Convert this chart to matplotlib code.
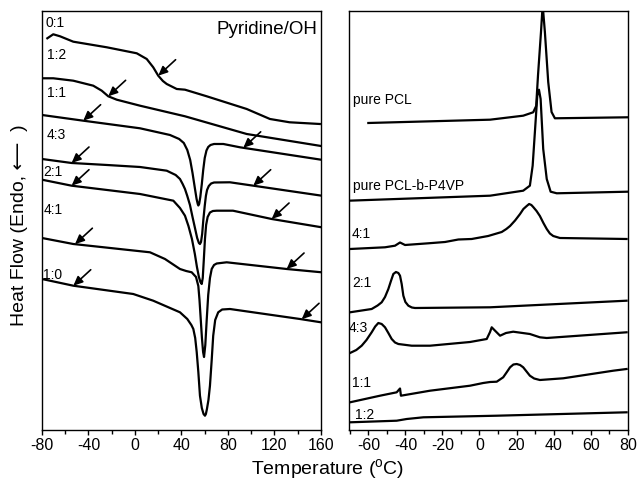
import numpy as np
import matplotlib.pyplot as plt
from matplotlib.ticker import MultipleLocator

plt.rcParams['font.family'] = ['Liberation Sans', 'DejaVu Sans']
plt.rcParams['mathtext.fontset'] = 'custom'
plt.rcParams['mathtext.rm'] = 'Liberation Sans'

# ---- heating scans (left panel), heat flow in a.u., endo down ----
t_01 = [-75.4, -70.3, -64.5, -53.1, -24.3, 1.5, 10.1, 15.7, 20.0, 24.0, 27.3, 35.9, 43.0, 61.7, 96.1, 116.1, 133.0, 159.0]
hf_01 = [391.7, 395.7, 393.7, 388.3, 382.7, 376.7, 371.0, 362.7, 354.3, 349.0, 346.0, 341.0, 340.3, 333.7, 321.0, 311.0, 307.7, 306.0]

t_12 = [-80, -70.3, -53.1, -35.9, -28.6, -23.0, -15.7, 4.3, 43.0, 96.1, 160]
hf_12 = [351.7, 351.7, 349.3, 344.3, 339.3, 333.7, 330.3, 324.3, 313.7, 296.0, 284.0]

t_11 = [-80, -44.5, 4.3, 30.1, 38.0, 42.0, 45.0, 47.5, 49.5, 51.5, 53.0, 54.0, 54.5, 55.2, 56.2, 57.5, 58.7, 60.0, 61.5, 63.0, 65.0, 68.0, 76.0, 90.3, 160]
hf_11 = [315, 309.3, 301.7, 295, 291, 287, 280, 270, 257, 242, 231, 226, 224.5, 226, 233, 246, 260, 272, 279.5, 283, 285, 286, 286, 282.7, 270.3]

t_43 = [-80, -54.5, -24.1, 4.3, 27.3, 35.0, 38.7, 41.0, 43.0, 45.0, 47.3, 49.5, 51.6, 53.5, 55.0, 55.9, 56.8, 57.8, 58.8, 60.0, 61.0, 62.0, 63.5, 65.5, 68.0, 81.7, 101.8, 160.6]
hf_43 = [271, 267, 265, 263, 259.3, 255, 251, 246, 241, 234, 225, 213, 202, 192, 187, 186, 188, 196, 210, 224, 234, 240, 244, 246.5, 247.5, 247.7, 244.3, 234.3]

t_21 = [-80, -54.5, 4.3, 33.0, 38.7, 43.0, 46.0, 49.0, 51.5, 53.3, 55.0, 56.3, 57.4, 58.3, 59.2, 60.2, 61.2, 62.5, 64.5, 67.0, 70.3, 84.3, 117.6, 160.6]
hf_21 = [250.3, 244.3, 236, 229.3, 222, 214.3, 204, 191, 176, 163, 153, 148, 146, 152, 170, 191, 205, 213, 217.5, 219, 219.3, 219.3, 211, 202.7]

t_41 = [-80, -53.1, 12.9, 25.8, 38.7, 44.0, 48.8, 52.5, 54.5, 55.5, 56.5, 57.6, 58.6, 59.4, 60.5, 61.7, 63.0, 64.5, 66.0, 68.0, 70.3, 78.9, 130.5, 160.6]
hf_41 = [192, 186, 177.7, 171, 161, 159, 157.7, 153, 144, 130, 112, 92, 78, 73, 85, 110, 135, 152, 161, 165, 166.5, 167.7, 161, 157.7]

t_10 = [-80, -53.1, -1.5, 15.7, 38.7, 45.0, 48.5, 50.2, 51.8, 53.1, 54.5, 55.9, 57.5, 59.0, 60.2, 61.0, 61.9, 63.2, 64.5, 66.0, 67.3, 69.0, 71.6, 75.0, 81.7, 141.9, 160]
hf_10 = [151, 144.3, 136, 129.3, 117.7, 111, 105, 101, 92, 78, 58, 34.3, 22, 16, 14.3, 16, 21, 30, 44.3, 70, 94.3, 110, 117.7, 120.5, 121, 111, 107.7]

heat_names = ['0:1', '1:2', '1:1', '4:3', '2:1', '4:1', '1:0']
# Tg arrows (temperature of arrow tip) per curve
arrows_01 = [20.0]
arrows_12 = [-23.0]
arrows_11 = [-44.5, 93.2]
arrows_43 = [-54.5, 101.8]
arrows_21 = [-54.5, 117.6]
arrows_41 = [-51.6, 130.5]
arrows_10 = [-53.0, 143.4]

# ---- cooling scans (right panel) ----
c_t_pcl = [-60.0, 5.7, 23.6, 29.0, 30.6, 31.6, 33.2, 34.1, 35.3, 37.1, 38.9, 40.7, 80.3]
c_hf_pcl = [307, 310.3, 314.3, 317.7, 324, 355, 398, 425, 398, 348, 318, 311.7, 312.7]

c_t_blk = [-70.6, 5.7, 23.6, 27.2, 28.7, 29.9, 31.2, 32.1, 33.0, 34.4, 36.3, 38.4, 41.7, 80.3]
c_hf_blk = [229.3, 234.3, 239.3, 244.3, 264.3, 297.7, 334.3, 340.3, 331, 281, 251, 238.3, 236.7, 238.3]

c_t_41 = [-69.9, -51.0, -45.6, -42.9, -40.2, -27.6, -18.6, -11.4, -4.2, 4.7, 12.0, 14.5, 16.5, 19.2, 21.9, 23.7, 25.5, 26.8, 28.0, 29.0, 30.8, 32.6, 34.5, 36.3, 38.0, 39.8, 43.4, 79.4]
c_hf_41 = [181, 182.7, 184.3, 187.5, 185, 186.7, 188, 190.5, 191, 194, 198, 201, 204, 209.5, 216, 221, 224, 226, 225, 223, 219, 214, 207, 201, 196.5, 194, 192, 191]

c_t_21 = [-69.9, -58.2, -55.0, -52.8, -51.0, -49.2, -47.8, -46.5, -45.1, -43.8, -42.9, -42.0, -41.1, -40.0, -38.4, -36.5, -34.8, 5.7, 79.4]
c_hf_21 = [117.7, 121, 124.5, 127.7, 133, 141, 149, 156, 158, 157, 154.3, 146, 134.3, 128, 124.3, 122.5, 122, 122.7, 129.3]

c_t_43 = [-69.9, -66.5, -63.6, -61.0, -58.2, -56.3, -54.6, -52.8, -51.0, -49.2, -47.4, -45.6, -43.8, -36.6, -26.7, -5.1, 3.9, 5.7, 6.6, 8.4, 11.1, 14.3, 18.2, 27.2, 32.6, 36.3, 79.4]
c_hf_43 = [77, 80, 84.3, 90, 97.7, 103.5, 107, 106, 102.7, 97, 91, 87.5, 86, 84.3, 84.3, 88, 91, 98, 102.7, 99.3, 94.3, 97, 98.3, 96, 92.7, 92, 97.7]

c_t_11 = [-69.9, -53.7, -44.7, -42.9, -42.4, -26.7, -5.1, 2.0, 5.7, 9.3, 12.8, 14.6, 16.5, 18.3, 20.1, 21.9, 23.6, 25.4, 27.2, 29.5, 32.6, 45.2, 72.2, 79.4]
c_hf_11 = [27.7, 34.3, 37.7, 41.5, 34.3, 39.3, 44.3, 47, 48, 48.3, 52.7, 57.5, 62.7, 65.5, 66, 65, 62.7, 58.5, 54.3, 51.5, 50, 51.7, 59.3, 61]

c_t_12 = [-69.9, -44.7, -39.3, -30.3, 9.3, 79.4]
c_hf_12 = [7.7, 9.3, 11, 12.7, 14.3, 17.7]


fig = plt.figure(figsize=(6.39, 4.89), dpi=100)
ax1 = fig.add_axes([0.0657, 0.1186, 0.4366, 0.8569])
ax2 = fig.add_axes([0.5457, 0.1186, 0.4366, 0.8569])

lw = 1.6
heat_t = [t_01, t_12, t_11, t_43, t_21, t_41, t_10]
heat_hf = [hf_01, hf_12, hf_11, hf_43, hf_21, hf_41, hf_10]
heat_arrows = [arrows_01, arrows_12, arrows_11, arrows_43, arrows_21, arrows_41, arrows_10]
for t, hf, arr in zip(heat_t, heat_hf, heat_arrows):
    ax1.plot(t, hf, color='k', lw=lw, solid_joinstyle='round')
    for ta in arr:
        ax1.annotate('', xy=(ta, np.interp(ta, t, hf)), xytext=(12.5, 11.5),
                     textcoords='offset points',
                     arrowprops=dict(arrowstyle='-|>,head_length=0.55,head_width=0.25',
                                     color='k', lw=1.2, shrinkA=0, shrinkB=0,
                                     mutation_scale=10))

# curve labels, left panel
lab_x = [0.011, 0.017, 0.017, 0.017, 0.005, 0.005, 0.002]
lab_y = [0.974, 0.897, 0.806, 0.706, 0.619, 0.527, 0.372]
for name, x, y in zip(heat_names, lab_x, lab_y):
    ax1.text(x, y, name, transform=ax1.transAxes, fontsize=10, va='center', ha='left')
ax1.text(0.986, 0.957, 'Pyridine/OH', transform=ax1.transAxes, fontsize=13.5,
         va='center', ha='right')

ax1.set_xlim(-80, 160)
ax1.set_ylim(0, 419)
ax1.xaxis.set_minor_locator(MultipleLocator(20))
ax1.set_xticks(np.arange(-80, 161, 40))
ax1.set_xticklabels([str(v) for v in range(-80, 161, 40)])

cool_t = [c_t_pcl, c_t_blk, c_t_41, c_t_21, c_t_43, c_t_11, c_t_12]
cool_hf = [c_hf_pcl, c_hf_blk, c_hf_41, c_hf_21, c_hf_43, c_hf_11, c_hf_12]
for t, hf in zip(cool_t, cool_hf):
    ax2.plot(t, hf, color='k', lw=lw, solid_joinstyle='round')

cool_names = ['pure PCL', 'pure PCL-b-P4VP', '4:1', '2:1', '4:3', '1:1', '1:2']
cl_x = [0.016, 0.016, 0.011, 0.011, -0.002, 0.011, 0.023]
cl_y = [0.790, 0.585, 0.470, 0.353, 0.245, 0.115, 0.038]
for name, x, y in zip(cool_names, cl_x, cl_y):
    ax2.text(x, y, name, transform=ax2.transAxes, fontsize=10, va='center', ha='left')

ax2.set_xlim(-70.6, 80)
ax2.set_ylim(0, 419)
ax2.xaxis.set_minor_locator(MultipleLocator(10))
ax2.set_xticks(np.arange(-60, 81, 20))
ax2.set_xticklabels([str(v) for v in range(-60, 81, 20)])

for ax in (ax1, ax2):
    ax.set_yticks([])
    for s in ax.spines.values():
        s.set_linewidth(1.0)
    ax.tick_params(axis='x', which='major', direction='out', length=3.5, width=1.0,
                   labelsize=11.5, pad=1.5)
    ax.tick_params(axis='x', which='minor', direction='out', length=3, width=1.0)

fig.text(0.512, 0.039, 'Temperature ($^{\\rm o}$C)', fontsize=14, ha='center', va='center')
fig.text(0.031, 0.54, 'Heat Flow (Endo, \u27f5  )', fontsize=14, rotation=90,
         ha='center', va='center')

fig.savefig('out.png', dpi=100)
